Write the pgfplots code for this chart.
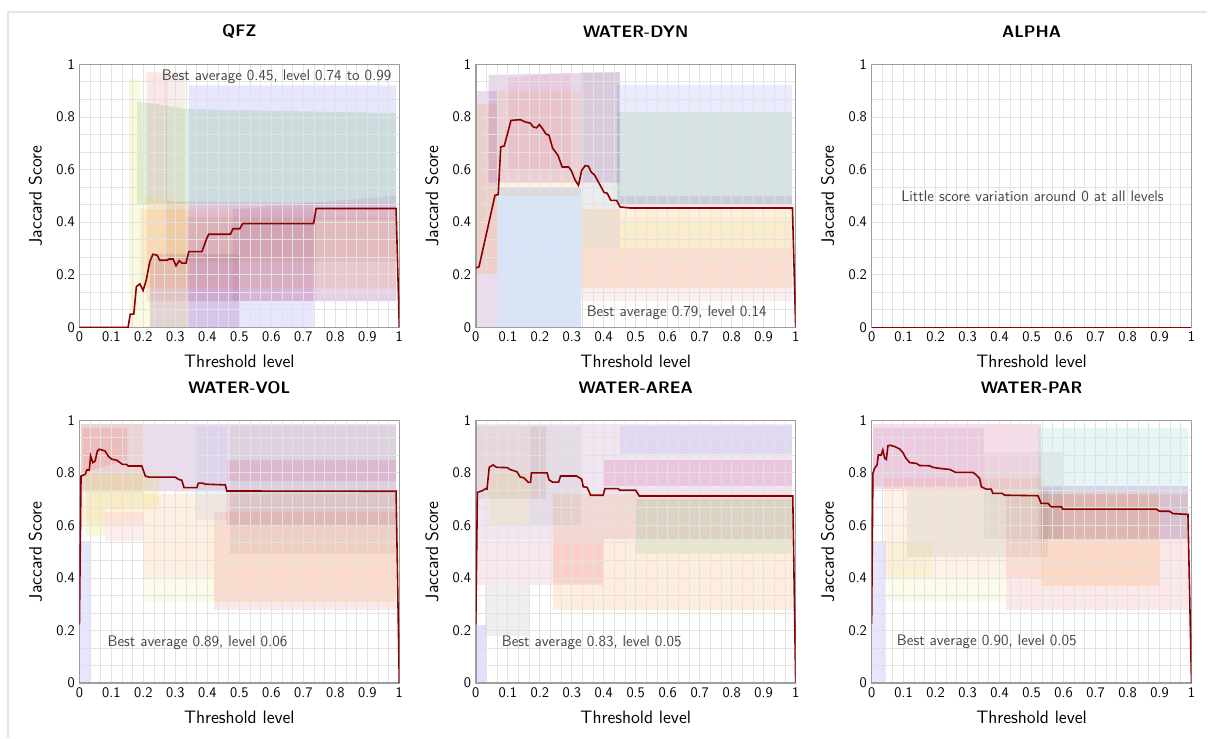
\documentclass[border=0pt]{standalone}
\usepackage{pgfplots}
\pgfplotsset{compat=1.18}
\renewcommand{\familydefault}{\sfdefault}
\definecolor{avg}{RGB}{139,0,0}
\definecolor{cred}{RGB}{228,26,28}
\definecolor{cblue}{RGB}{90,90,255}
\definecolor{csky}{RGB}{100,150,230}
\definecolor{cgreen}{RGB}{77,175,74}
\definecolor{cpurple}{RGB}{152,78,163}
\definecolor{corange}{RGB}{255,127,0}
\definecolor{cyellow}{RGB}{220,220,40}
\definecolor{cpink}{RGB}{220,80,150}
\definecolor{clpink}{RGB}{255,130,160}
\definecolor{cgray}{RGB}{130,130,130}
\definecolor{cbrown}{RGB}{166,86,40}
\definecolor{ccyan}{RGB}{90,190,200}
\definecolor{gridc}{RGB}{226,226,226}
\definecolor{framec}{RGB}{158,158,158}
\definecolor{annc}{RGB}{68,68,68}
\tikzset{ann/.style={font=\fontsize{11.5}{13}\selectfont, text=annc}}
\pgfplotsset{
  myax/.style={
    scale only axis, width=240pt, height=197.25pt,
    xmin=0, xmax=1, ymin=0, ymax=1,
    xtick={0,0.1,0.2,0.3,0.4,0.5,0.6,0.7,0.8,0.9,1},
    ytick={0,0.2,0.4,0.6,0.8,1},
    minor x tick num=2, minor y tick num=2,
    grid=both,
    major grid style={draw=gridc, line width=0.7pt},
    minor grid style={draw=gridc, line width=0.7pt},
    major tick length=0pt, minor tick length=0pt,
    axis line style={draw=framec, line width=1.1pt},
    /pgf/number format/assume math mode=true,
    ticklabel style={font=\fontsize{11}{13}\selectfont},
    label style={font=\fontsize{13.5}{15}\selectfont},
    title style={font=\bfseries\fontsize{12.5}{14}\selectfont, at={(axis description cs:0.5,1.094)}, anchor=center},
    xlabel style={at={(axis description cs:0.5,-0.129)}, anchor=center},
    ylabel style={at={(axis description cs:-0.1375,0.5)}, anchor=center},
    xlabel={Threshold level}, ylabel={Jaccard Score},
    set layers, clip=true,
  },
  band/.style={fill=#1, draw=none, on layer=axis background, fill opacity=0.15},
  avgline/.style={draw=avg, line width=1.2pt, mark=none},
}
\begin{document}
\begin{tikzpicture}
\path (0pt,0pt) rectangle (906pt,553.5pt);
\draw[draw=gray!20, line width=0.8pt] (6pt,0pt) -- (6pt,544.5pt) -- (906pt,544.5pt);

% ---------------- QFZ ----------------
\begin{axis}[myax, at={(59.6pt,307.9pt)}, anchor=south west, title={QFZ}]
\addplot[band=cblue] coordinates {(0.342,0)(0.732,0)(0.732,0.1)(0.99,0.1)(0.99,0.92)(0.342,0.92)} -- cycle;
\addplot[band=cgreen, fill opacity=0.18] coordinates {(0.18,0.47)(0.18,0.86)(0.34,0.83)(0.99,0.815)(0.99,0.47)} -- cycle;
\addplot[band=cred, fill opacity=0.11] coordinates {(0.21,0.1)(0.21,0.97)(0.275,0.97)(0.275,0.48)(0.99,0.47)(0.99,0.1)} -- cycle;
\addplot[band=cyellow] coordinates {(0.155,0)(0.155,0.945)(0.19,0.945)(0.2,0.5)(0.34,0.47)(0.34,0)} -- cycle;
\addplot[band=cpurple, fill opacity=0.22] coordinates {(0.22,0)(0.22,0.28)(0.5,0.28)(0.5,0)} -- cycle;
\addplot[band=cpurple, fill opacity=0.1] coordinates {(0.34,0.1)(0.34,0.47)(0.73,0.47)(0.73,0.1)} -- cycle;
\addplot[band=corange, fill opacity=0.1] coordinates {(0.19,0.15)(0.19,0.45)(0.99,0.45)(0.99,0.15)} -- cycle;
\addplot[band=cbrown, fill opacity=0.1] coordinates {(0.27,0.25)(0.27,0.97)(0.33,0.97)(0.33,0.42)(0.99,0.42)(0.99,0.25)} -- cycle;
\addplot[band=cpurple, fill opacity=0.12] coordinates {(0.48,0.1)(0.48,0.45)(0.99,0.5)(0.99,0.41)(0.74,0.41)(0.74,0.1)} -- cycle;
\addplot[avgline] coordinates {
(0,0)(0.152,0)(0.159,0.05)(0.17,0.05)(0.178,0.155)(0.189,0.165)(0.199,0.14)(0.209,0.18)
(0.22,0.25)(0.23,0.278)(0.243,0.274)(0.251,0.255)(0.274,0.255)(0.28,0.26)(0.293,0.26)
(0.302,0.234)(0.312,0.253)(0.321,0.244)(0.333,0.244)(0.342,0.288)(0.383,0.288)(0.397,0.335)
(0.404,0.354)(0.472,0.354)(0.48,0.375)(0.501,0.375)(0.511,0.395)(0.732,0.395)(0.74,0.452)
(0.99,0.452)(1,0)};
\node[ann, anchor=east] at (axis cs:0.99,0.952) {Best average 0.45, level 0.74 to 0.99};
\end{axis}

% ---------------- WATER-DYN ----------------
\begin{axis}[myax, at={(357pt,307.9pt)}, anchor=south west, title={WATER-DYN}]
\addplot[band=cpurple, fill opacity=0.2] coordinates {(0,0)(0,0.9)(0.07,0.9)(0.07,0)} -- cycle;
\addplot[band=corange, fill opacity=0.15] coordinates {(0,0.2)(0,0.85)(0.07,0.85)(0.07,0.2)} -- cycle;
\addplot[band=csky, fill opacity=0.25] coordinates {(0.07,0)(0.07,0.53)(0.33,0.53)(0.33,0)} -- cycle;
\addplot[band=cpurple, fill opacity=0.22] coordinates {(0.04,0.55)(0.04,0.96)(0.45,0.97)(0.45,0.55)} -- cycle;
\addplot[band=corange, fill opacity=0.1] coordinates {(0.07,0.5)(0.07,0.9)(0.33,0.9)(0.33,0.5)} -- cycle;
\addplot[band=cpink, fill opacity=0.1] coordinates {(0.1,0.6)(0.1,0.95)(0.3,0.97)(0.3,0.6)} -- cycle;
\addplot[band=cgray, fill opacity=0.15] coordinates {(0.33,0.3)(0.33,0.97)(0.45,0.97)(0.45,0.3)} -- cycle;
\addplot[band=cblue, fill opacity=0.12] coordinates {(0.44,0.47)(0.44,0.92)(0.99,0.92)(0.99,0.47)} -- cycle;
\addplot[band=cgreen, fill opacity=0.15] coordinates {(0.44,0.47)(0.44,0.82)(0.99,0.82)(0.99,0.47)} -- cycle;
\addplot[band=cpurple, fill opacity=0.15] coordinates {(0.45,0.45)(0.45,0.5)(0.99,0.5)(0.99,0.45)} -- cycle;
\addplot[band=corange, fill opacity=0.13] coordinates {(0.33,0.15)(0.33,0.45)(0.99,0.45)(0.99,0.15)} -- cycle;
\addplot[band=cred, fill opacity=0.07] coordinates {(0.33,0.1)(0.33,0.3)(0.99,0.3)(0.99,0.1)} -- cycle;
\addplot[band=cyellow, fill opacity=0.1] coordinates {(0.45,0.3)(0.45,0.42)(0.99,0.42)(0.99,0.3)} -- cycle;
\addplot[avgline] coordinates {
(0,0.226)(0.01,0.23)(0.06,0.502)(0.07,0.505)(0.078,0.686)(0.089,0.69)(0.11,0.787)(0.139,0.79)
(0.155,0.781)(0.17,0.777)(0.18,0.762)(0.19,0.759)(0.199,0.771)(0.209,0.755)(0.219,0.736)
(0.229,0.73)(0.24,0.682)(0.257,0.654)(0.27,0.61)(0.29,0.61)(0.298,0.597)(0.311,0.559)
(0.321,0.54)(0.331,0.597)(0.342,0.615)(0.352,0.613)(0.361,0.59)(0.371,0.58)(0.389,0.54)
(0.401,0.513)(0.411,0.51)(0.422,0.483)(0.44,0.483)(0.451,0.458)(0.482,0.454)(0.99,0.454)(1,0)};
\node[ann] at (axis cs:0.628,0.054) {Best average 0.79, level 0.14};
\end{axis}

% ---------------- ALPHA ----------------
\begin{axis}[myax, at={(654pt,307.9pt)}, anchor=south west, title={ALPHA}]
\addplot[avgline] coordinates {(0,0)(1,0)};
\node[ann] at (axis cs:0.503,0.497) {Little score variation around 0 at all levels};
\end{axis}

% ---------------- WATER-VOL ----------------
\begin{axis}[myax, at={(59.6pt,40.9pt)}, anchor=south west, title={WATER-VOL}]
\addplot[band=cpurple, fill opacity=0.2] coordinates {(0.005,0.73)(0.005,0.985)(0.99,0.985)(0.99,0.6)(0.46,0.6)(0.46,0.73)} -- cycle;
\addplot[band=cpink, fill opacity=0.2] coordinates {(0.46,0.77)(0.46,0.85)(0.99,0.85)(0.99,0.77)} -- cycle;
\addplot[band=cred, fill opacity=0.1] coordinates {(0.42,0.28)(0.42,0.65)(0.99,0.65)(0.99,0.28)} -- cycle;
\addplot[band=corange, fill opacity=0.12] coordinates {(0.2,0.4)(0.2,0.72)(0.99,0.72)(0.99,0.31)(0.42,0.31)(0.42,0.4)} -- cycle;
\addplot[band=cred, fill opacity=0.08] coordinates {(0.08,0.54)(0.08,0.65)(0.2,0.65)(0.2,0.54)} -- cycle;
\addplot[band=cyellow, fill opacity=0.18] coordinates {(0.02,0.56)(0.02,0.8)(0.25,0.8)(0.25,0.66)(0.08,0.66)(0.08,0.56)} -- cycle;
\addplot[band=cgray, fill opacity=0.12] coordinates {(0.47,0.49)(0.47,0.98)(0.99,0.98)(0.99,0.49)} -- cycle;
\addplot[band=cyellow, fill opacity=0.1] coordinates {(0.2,0.31)(0.2,0.4)(0.42,0.4)(0.42,0.31)} -- cycle;
\addplot[band=cblue, fill opacity=0.15] coordinates {(0,0)(0,0.54)(0.035,0.54)(0.035,0)} -- cycle;
\addplot[band=cred, fill opacity=0.12] coordinates {(0.01,0.8)(0.01,0.97)(0.15,0.97)(0.15,0.85)} -- cycle;
\addplot[band=csky, fill opacity=0.1] coordinates {(0.36,0.62)(0.36,0.98)(0.46,0.98)(0.46,0.62)} -- cycle;
\addplot[band=corange, fill opacity=0.1] coordinates {(0.005,0.6)(0.005,0.985)(0.2,0.985)(0.2,0.6)} -- cycle;
\addplot[avgline] coordinates {
(0,0.223)(0.005,0.788)(0.018,0.794)(0.023,0.811)(0.031,0.811)(0.035,0.864)(0.042,0.839)
(0.049,0.845)(0.056,0.883)(0.062,0.89)(0.08,0.883)(0.091,0.862)(0.101,0.852)(0.117,0.848)
(0.127,0.839)(0.135,0.832)(0.148,0.832)(0.153,0.826)(0.195,0.826)(0.206,0.788)(0.216,0.784)
(0.299,0.784)(0.31,0.775)(0.32,0.772)(0.327,0.744)(0.367,0.744)(0.372,0.761)(0.386,0.761)
(0.393,0.757)(0.456,0.754)(0.461,0.731)(0.99,0.73)(1,0)};
\node[ann] at (axis cs:0.369,0.153) {Best average 0.89, level 0.06};
\end{axis}

% ---------------- WATER-AREA ----------------
\begin{axis}[myax, at={(357pt,40.9pt)}, anchor=south west, title={WATER-AREA}]
\addplot[band=cpurple, fill opacity=0.15] coordinates {(0.005,0.55)(0.005,0.985)(0.99,0.985)(0.99,0.55)} -- cycle;
\addplot[band=cpink, fill opacity=0.13] coordinates {(0.005,0.375)(0.005,0.55)(0.4,0.55)(0.4,0.375)} -- cycle;
\addplot[band=clpink, fill opacity=0.12] coordinates {(0.24,0.38)(0.24,0.55)(0.4,0.55)(0.4,0.38)} -- cycle;
\addplot[band=cpink, fill opacity=0.22] coordinates {(0.4,0.75)(0.4,0.85)(0.99,0.85)(0.99,0.75)} -- cycle;
\addplot[band=corange, fill opacity=0.13] coordinates {(0.24,0.28)(0.24,0.72)(0.99,0.72)(0.99,0.28)} -- cycle;
\addplot[band=cgreen, fill opacity=0.13] coordinates {(0.5,0.49)(0.5,0.7)(0.99,0.7)(0.99,0.49)} -- cycle;
\addplot[band=cgray, fill opacity=0.13] coordinates {(0.03,0.18)(0.03,0.375)(0.17,0.375)(0.17,0.18)} -- cycle;
\addplot[band=cblue, fill opacity=0.18] coordinates {(0,0)(0,0.22)(0.033,0.22)(0.033,0)} -- cycle;
\addplot[band=cblue, fill opacity=0.1] coordinates {(0.45,0.87)(0.45,0.98)(0.99,0.98)(0.99,0.87)} -- cycle;
\addplot[band=cyellow, fill opacity=0.13] coordinates {(0.04,0.6)(0.04,0.8)(0.17,0.8)(0.17,0.6)} -- cycle;
\addplot[band=cbrown, fill opacity=0.1] coordinates {(0.005,0.7)(0.005,0.98)(0.22,0.98)(0.22,0.7)} -- cycle;
\addplot[band=cgray, fill opacity=0.1] coordinates {(0.17,0.6)(0.17,0.98)(0.33,0.98)(0.33,0.6)} -- cycle;
\addplot[avgline] coordinates {
(0,0.224)(0.005,0.726)(0.018,0.731)(0.023,0.734)(0.031,0.74)(0.035,0.738)(0.042,0.821)
(0.054,0.83)(0.065,0.821)(0.098,0.82)(0.107,0.813)(0.119,0.808)(0.129,0.804)(0.138,0.785)
(0.15,0.781)(0.164,0.764)(0.171,0.764)(0.174,0.8)(0.223,0.8)(0.229,0.773)(0.24,0.765)
(0.259,0.765)(0.265,0.788)(0.315,0.788)(0.331,0.776)(0.336,0.747)(0.348,0.745)(0.359,0.715)
(0.398,0.715)(0.404,0.74)(0.445,0.74)(0.45,0.734)(0.5,0.734)(0.511,0.712)(0.991,0.712)(1,0)};
\node[ann] at (axis cs:0.3625,0.155) {Best average 0.83, level 0.05};
\end{axis}

% ---------------- WATER-PAR ----------------
\begin{axis}[myax, at={(654pt,40.9pt)}, anchor=south west, title={WATER-PAR}]
\addplot[band=cpink, fill opacity=0.2] coordinates {(0.005,0.74)(0.005,0.985)(0.53,0.985)(0.53,0.74)} -- cycle;
\addplot[band=ccyan, fill opacity=0.15] coordinates {(0.52,0.55)(0.52,0.97)(0.99,0.97)(0.99,0.55)} -- cycle;
\addplot[band=cpurple, fill opacity=0.2] coordinates {(0.53,0.55)(0.53,0.75)(0.99,0.75)(0.99,0.55)} -- cycle;
\addplot[band=cred, fill opacity=0.1] coordinates {(0.42,0.28)(0.42,0.72)(0.99,0.72)(0.99,0.28)} -- cycle;
\addplot[band=corange, fill opacity=0.15] coordinates {(0.53,0.37)(0.53,0.72)(0.9,0.72)(0.9,0.37)} -- cycle;
\addplot[band=corange, fill opacity=0.1] coordinates {(0.04,0.4)(0.04,0.78)(0.54,0.78)(0.54,0.4)} -- cycle;
\addplot[band=cyellow, fill opacity=0.1] coordinates {(0.05,0.31)(0.05,0.54)(0.19,0.54)(0.19,0.4)(0.42,0.4)(0.42,0.31)} -- cycle;
\addplot[band=cgray, fill opacity=0.12] coordinates {(0.11,0.48)(0.11,0.74)(0.55,0.74)(0.55,0.48)} -- cycle;
\addplot[band=cblue, fill opacity=0.15] coordinates {(0,0)(0,0.54)(0.045,0.54)(0.045,0)} -- cycle;
\addplot[band=cgray, fill opacity=0.1] coordinates {(0.35,0.55)(0.35,0.88)(0.6,0.88)(0.6,0.55)} -- cycle;
\addplot[band=cpurple, fill opacity=0.12] coordinates {(0.005,0.75)(0.005,0.97)(0.35,0.97)(0.35,0.75)} -- cycle;
\addplot[avgline] coordinates {
(0,0.226)(0.004,0.798)(0.009,0.817)(0.017,0.83)(0.021,0.868)(0.03,0.868)(0.035,0.887)
(0.041,0.855)(0.046,0.851)(0.051,0.903)(0.058,0.905)(0.072,0.9)(0.0875,0.891)(0.098,0.877)
(0.106,0.858)(0.119,0.839)(0.14,0.836)(0.15,0.828)(0.181,0.827)(0.192,0.821)(0.2125,0.817)
(0.244,0.813)(0.2625,0.802)(0.317,0.802)(0.327,0.792)(0.3375,0.779)(0.343,0.747)(0.358,0.738)
(0.374,0.738)(0.379,0.722)(0.408,0.722)(0.416,0.715)(0.52,0.713)(0.53,0.684)(0.551,0.684)
(0.561,0.671)(0.593,0.671)(0.598,0.662)(0.89,0.662)(0.9,0.654)(0.931,0.654)(0.942,0.645)
(0.989,0.642)(1,0)};
\node[ann] at (axis cs:0.36,0.158) {Best average 0.90, level 0.05};
\end{axis}
\end{tikzpicture}
\end{document}
